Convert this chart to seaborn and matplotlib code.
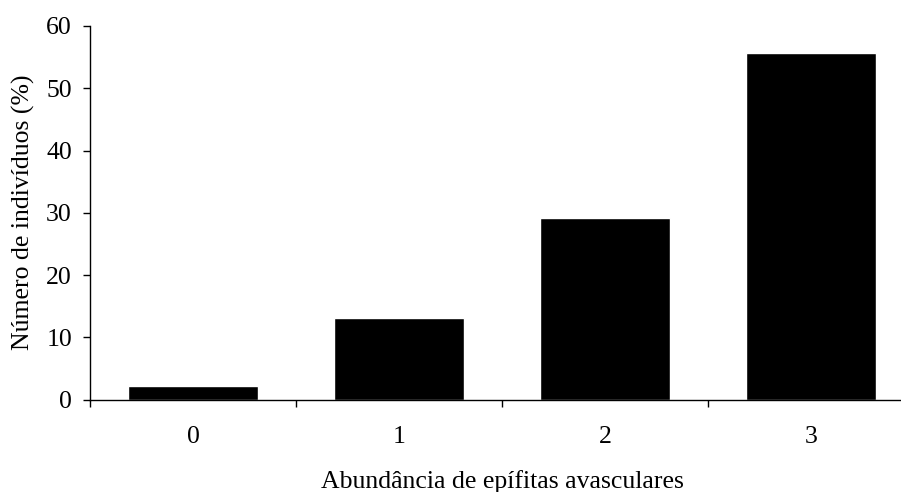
import pandas as pd
import seaborn as sns
import matplotlib.pyplot as plt

categories = ['0', '1', '2', '3']
values = [2.2, 13.1, 29.2, 55.6]

df = pd.DataFrame({'abund': categories, 'pct': values})

sns.set_style('ticks')
plt.rcParams['font.family'] = ['Liberation Serif', 'DejaVu Serif']
plt.rcParams['text.color'] = 'black'
plt.rcParams['axes.labelcolor'] = 'black'
plt.rcParams['xtick.color'] = 'black'
plt.rcParams['ytick.color'] = 'black'

fs = 18.5

fig = plt.figure(figsize=(9.01, 4.92), dpi=100)
ax = fig.add_axes([90/901, 92.5/492, 824/901, 373.5/492])

sns.barplot(data=df, x='abund', y='pct', color='black', width=0.63,
            saturation=1, ax=ax)

ax.set_xlim(-0.5, 3.5)
ax.set_ylim(0, 60)
ax.set_yticks(range(0, 61, 10))
ax.set_xticks([-0.5, 0.5, 1.5, 2.5, 3.5], minor=True)
ax.tick_params(axis='x', which='major', length=0, pad=19, labelsize=fs)
ax.tick_params(axis='x', which='minor', length=5, width=1, direction='out')
ax.tick_params(axis='y', length=5, width=1, direction='out', labelsize=fs, pad=8)
for s in ['top', 'right']:
    ax.spines[s].set_visible(False)
for s in ['left', 'bottom']:
    ax.spines[s].set_linewidth(1)
    ax.spines[s].set_color('black')

ax.set_xlabel('Abundância de epífitas avasculares', fontsize=fs, labelpad=16)
ax.set_ylabel('Número de indivíduos (%)', fontsize=fs, labelpad=8)

fig.savefig('out.png', dpi=100)
